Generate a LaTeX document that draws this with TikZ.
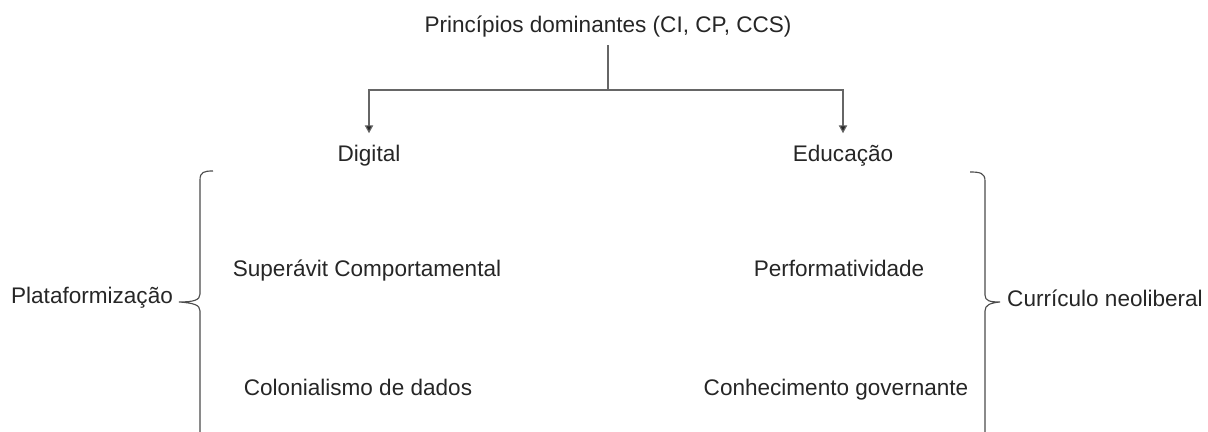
\documentclass[tikz,border=0pt]{standalone}
\usepackage{fontspec}
\setmainfont{Liberation Sans}
\usetikzlibrary{arrows.meta,positioning}
\tikzset{
  lbl/.style={font=\fontsize{12}{14}\selectfont, text=black!85, inner sep=0pt, anchor=base},
  conn/.style={draw=black!60, line width=0.6pt},
  tip/.style={-{Triangle[width=4.4pt,length=4.2pt,fill=black!85]}},
  brc/.style={draw=black!70, line width=0.6pt},
}

\begin{document}
\begin{tikzpicture}[x=0.532pt,y=-0.532pt]
  \useasboundingbox (0,0) rectangle (1208,432);

  % top of the tree
  \node[lbl] (princ) at (608,33) {Princípios dominantes (CI, CP, CCS)};
  \node[lbl] (digital) at (369,162) {Digital};
  \node[lbl] (educ) at (843,162) {Educação};
  \coordinate (fork) at (608,90);

  \draw[conn,shorten <=3.7pt] (princ.south) -- (fork);
  \draw[conn,tip,shorten >=6.4pt] (fork) -| (digital.north);
  \draw[conn,tip,shorten >=6.4pt] (fork) -| (educ.north);

  % items
  \node[lbl] (superavit) at (367,277) {Superávit Comportamental};
  \node[lbl] (colon) at (358,396) {Colonialismo de dados};
  \node[lbl] (perf) at (839,277) {Performatividade};
  \node[lbl] (conhec) at (836,396) {Conhecimento governante};

  \node[lbl] (plataf) at (92,304) {Plataformização};
  \node[lbl] (curric) at (1105,307) {Currículo neoliberal};

  % braces
  \draw[brc] (213,171) .. controls (204,171) and (200,172) .. (200,180) -- (200,294)
    .. controls (200,300) and (194,302) .. (179,302)
    .. controls (194,303) and (200,305) .. (200,311) -- (200,432);
  \draw[brc] (970,172) .. controls (980,172) and (985,173) .. (985,181) -- (985,295)
    .. controls (985,301) and (990,302) .. (1000,302)
    .. controls (990,303) and (985,305) .. (985,311) -- (985,432);
\end{tikzpicture}
\end{document}
